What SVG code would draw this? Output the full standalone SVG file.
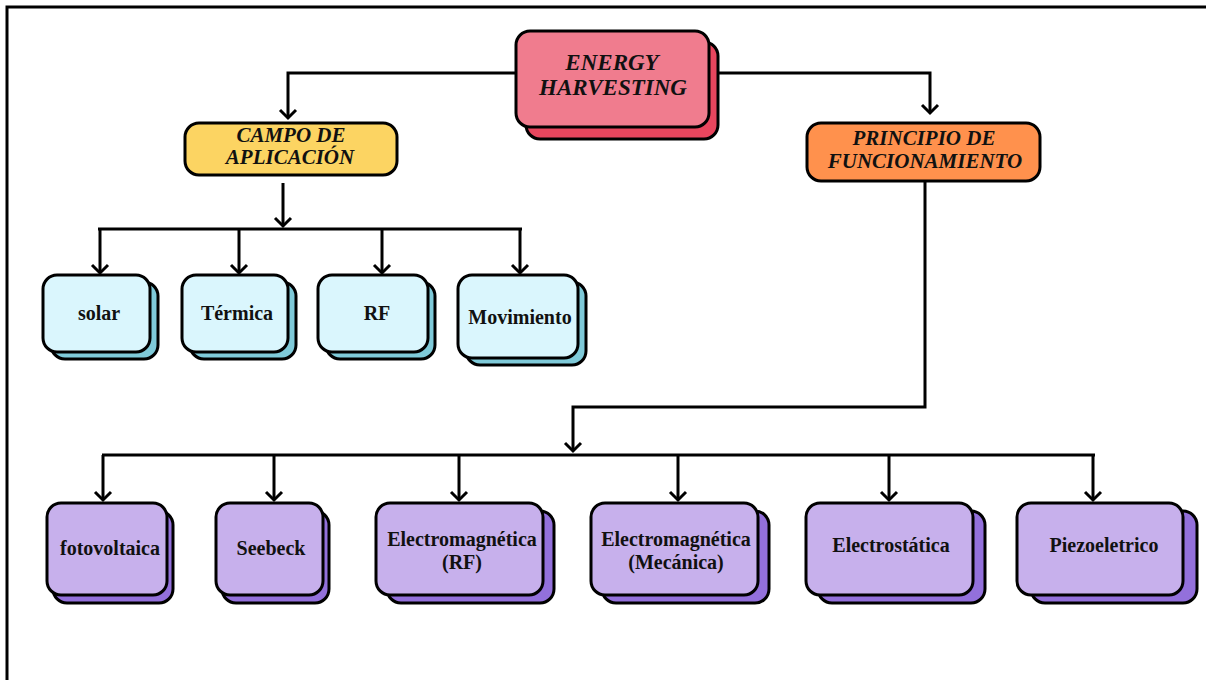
<svg xmlns="http://www.w3.org/2000/svg" width="1206" height="680" viewBox="0 0 1206 680">
<style>
.box{stroke:#000;stroke-width:3}
.pink{fill:#F07C8E}.pinks{fill:#E8465E}
.yel{fill:#FCD462}.org{fill:#FF914D}
.cy{fill:#DAF6FD}.cys{fill:#7FCAD9}
.pu{fill:#C7B0EC}.pus{fill:#9370DB}
.t{font-family:"Liberation Serif","Times New Roman",serif;font-weight:bold;font-size:20px;fill:#111;text-anchor:middle}
.ti{font-style:italic;font-size:21px}
.conn{fill:none;stroke:#000;stroke-width:3}
</style>
<defs>
<marker id="arr" markerUnits="userSpaceOnUse" markerWidth="20" markerHeight="20" refX="12" refY="10" orient="auto" viewBox="0 0 20 20">
<polyline points="4,2 12,10 4,18" fill="none" stroke="#000" stroke-width="3"/>
</marker>
</defs>
<rect width="1206" height="680" fill="#fff"/>
<path d="M7,680 V7 H1206" fill="none" stroke="#000" stroke-width="3"/>
<g id="connectors">
<path class="conn" d="M516,73 H288 V118" marker-end="url(#arr)"/>
<path class="conn" d="M709,73 H930 V113" marker-end="url(#arr)"/>
<path class="conn" d="M283,183 V226" marker-end="url(#arr)"/>
<path class="conn" d="M98,229 H522"/>
<path class="conn" d="M100,229 V273" marker-end="url(#arr)"/>
<path class="conn" d="M239,229 V273" marker-end="url(#arr)"/>
<path class="conn" d="M382,229 V273" marker-end="url(#arr)"/>
<path class="conn" d="M520,229 V273" marker-end="url(#arr)"/>
<path class="conn" d="M925,181 V407 H573 V451" marker-end="url(#arr)"/>
<path class="conn" d="M102,455 H1095"/>
<path class="conn" d="M103,455 V500" marker-end="url(#arr)"/>
<path class="conn" d="M274,455 V500" marker-end="url(#arr)"/>
<path class="conn" d="M459,455 V500" marker-end="url(#arr)"/>
<path class="conn" d="M678,455 V500" marker-end="url(#arr)"/>
<path class="conn" d="M889,455 V500" marker-end="url(#arr)"/>
<path class="conn" d="M1093,455 V500" marker-end="url(#arr)"/>
</g>
<g id="energy-harvesting">
<rect class="box pinks" x="526" y="42" width="192" height="97" rx="14"/>
<rect class="box pink" x="516" y="31" width="193" height="96" rx="14"/>
<text class="t ti" x="612" y="70" style="font-size:23px">ENERGY</text>
<text class="t ti" x="613" y="95" style="font-size:23px">HARVESTING</text>
</g>
<g id="campo">
<rect class="box yel" x="185" y="123" width="212" height="52" rx="14"/>
<text class="t ti" x="291" y="142">CAMPO DE</text>
<text class="t ti" x="290" y="164">APLICACIÓN</text>
</g>
<g id="principio">
<rect class="box org" x="807" y="123" width="233" height="58" rx="14"/>
<text class="t ti" x="924" y="145">PRINCIPIO DE</text>
<text class="t ti" x="925" y="168">FUNCIONAMIENTO</text>
</g>
<g id="solar">
<rect class="box cys" x="51" y="282" width="107" height="77" rx="14"/>
<rect class="box cy" x="43" y="275" width="107" height="77" rx="14"/>
<text class="t" x="99" y="320">solar</text>
</g>
<g id="termica">
<rect class="box cys" x="190" y="282" width="106" height="77" rx="14"/>
<rect class="box cy" x="182" y="275" width="106" height="77" rx="14"/>
<text class="t" x="237" y="320">Térmica</text>
</g>
<g id="rf">
<rect class="box cys" x="326" y="282" width="109" height="77" rx="14"/>
<rect class="box cy" x="318" y="275" width="110" height="77" rx="14"/>
<text class="t" x="377" y="320">RF</text>
</g>
<g id="movimiento">
<rect class="box cys" x="466" y="282" width="120" height="83" rx="14"/>
<rect class="box cy" x="458" y="275" width="120" height="83" rx="14"/>
<text class="t" x="520" y="324">Movimiento</text>
</g>
<g id="fotovoltaica">
<rect class="box pus" x="53" y="511" width="120" height="92" rx="14"/>
<rect class="box pu" x="47" y="503" width="120" height="92" rx="14"/>
<text class="t" x="110" y="555">fotovoltaica</text>
</g>
<g id="seebeck">
<rect class="box pus" x="222" y="511" width="107" height="92" rx="14"/>
<rect class="box pu" x="216" y="503" width="107" height="92" rx="14"/>
<text class="t" x="271" y="555">Seebeck</text>
</g>
<g id="em-rf">
<rect class="box pus" x="387" y="511" width="167" height="92" rx="14"/>
<rect class="box pu" x="376" y="503" width="167" height="92" rx="14"/>
<text class="t" x="462" y="546">Electromagnética</text>
<text class="t" x="462" y="569">(RF)</text>
</g>
<g id="em-mecanica">
<rect class="box pus" x="602" y="511" width="167" height="92" rx="14"/>
<rect class="box pu" x="591" y="503" width="167" height="92" rx="14"/>
<text class="t" x="676" y="546">Electromagnética</text>
<text class="t" x="676" y="569">(Mecánica)</text>
</g>
<g id="electrostatica">
<rect class="box pus" x="818" y="511" width="167" height="92" rx="14"/>
<rect class="box pu" x="806" y="503" width="167" height="92" rx="14"/>
<text class="t" x="891" y="552">Electrostática</text>
</g>
<g id="piezoeletrico">
<rect class="box pus" x="1031" y="511" width="166" height="92" rx="14"/>
<rect class="box pu" x="1017" y="503" width="166" height="92" rx="14"/>
<text class="t" x="1104" y="552">Piezoeletrico</text>
</g>
</svg>
